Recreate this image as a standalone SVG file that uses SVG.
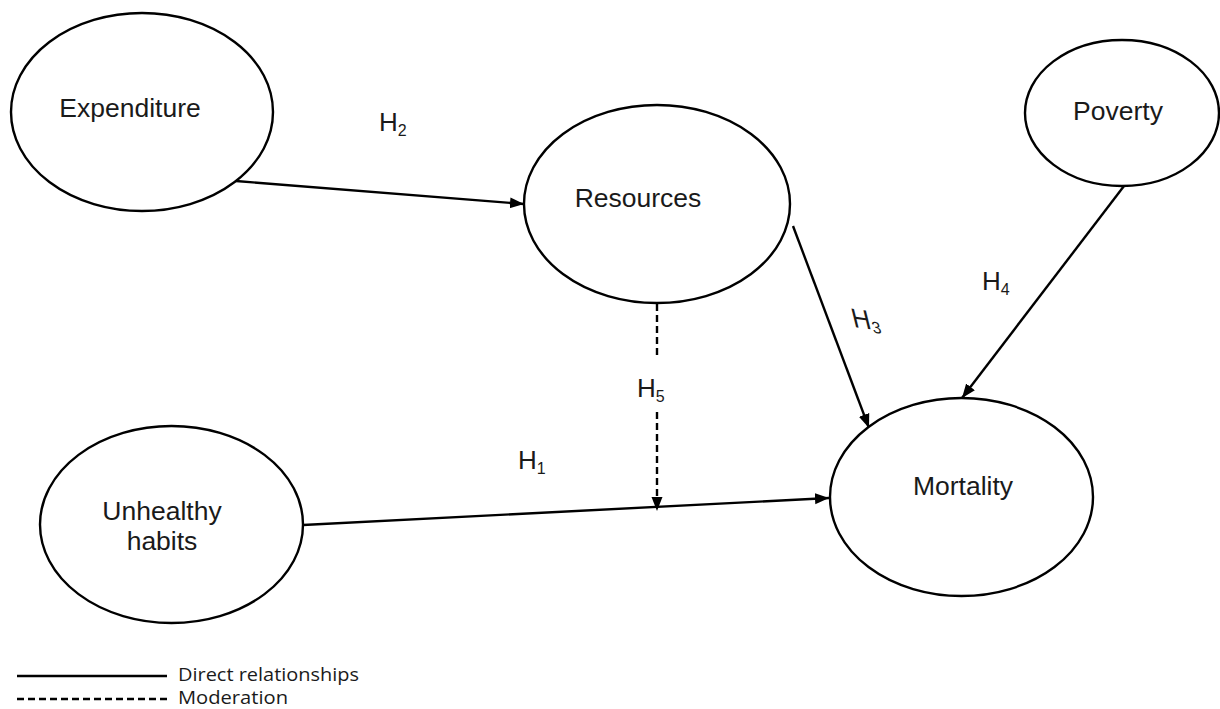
<svg xmlns="http://www.w3.org/2000/svg" width="1220" height="709" viewBox="0 0 1220 709">
<style>
.node{fill:#fff;stroke:#000;stroke-width:2.4}
.lbl{font-family:"Liberation Sans",Arial,sans-serif;font-size:26.5px;fill:#1a1a1a;text-anchor:middle}
.h{font-family:"Liberation Sans",Arial,sans-serif;font-size:26px;fill:#1a1a1a}
.sub{font-size:16px}
.con{stroke:#000;stroke-width:2.4;fill:none}
.dash{stroke-dasharray:7 4}
.leg{font-family:"Open Sans","Liberation Sans",sans-serif;font-size:18.5px;fill:#1a1a1a}
</style>
<defs>
<marker id="arr" markerUnits="userSpaceOnUse" markerWidth="16" markerHeight="14" refX="14" refY="7" orient="auto">
<path d="M0,1.5 L14,7 L0,12.5 Z" fill="#000"/>
</marker>
</defs>
<rect width="1220" height="709" fill="#fff"/>
<g id="connectors">
<line class="con" x1="236" y1="181" x2="524" y2="204" marker-end="url(#arr)"/>
<line class="con" x1="793" y1="226" x2="869" y2="428" marker-end="url(#arr)"/>
<line class="con" x1="1124" y1="186" x2="962" y2="398" marker-end="url(#arr)"/>
<line class="con" x1="303" y1="525" x2="829" y2="498" marker-end="url(#arr)"/>
<line class="con dash" x1="657" y1="304" x2="657" y2="358"/>
<line class="con dash" x1="657" y1="412" x2="657" y2="511" marker-end="url(#arr)"/>
</g>
<g id="node-expenditure">
<ellipse class="node" cx="142" cy="112" rx="131" ry="99"/>
<text class="lbl" x="130" y="117">Expenditure</text>
</g>
<g id="node-resources">
<ellipse class="node" cx="657" cy="204" rx="133" ry="99"/>
<text class="lbl" x="638" y="207">Resources</text>
</g>
<g id="node-poverty">
<ellipse class="node" cx="1122" cy="113" rx="97" ry="73"/>
<text class="lbl" x="1118" y="120">Poverty</text>
</g>
<g id="node-unhealthy">
<ellipse class="node" cx="171.5" cy="524.5" rx="131.5" ry="98.5"/>
<text class="lbl" x="162" y="520">Unhealthy</text>
<text class="lbl" x="162" y="550">habits</text>
</g>
<g id="node-mortality">
<ellipse class="node" cx="961.5" cy="497" rx="131.5" ry="99"/>
<text class="lbl" x="963" y="495">Mortality</text>
</g>
<g id="labels">
<text class="h" x="379" y="131">H<tspan class="sub" dy="5">2</tspan></text>
<text class="h" x="0" y="0" transform="translate(854,327) rotate(8) skewX(22)">H<tspan class="sub" dy="3">3</tspan></text>
<text class="h" x="982" y="290">H<tspan class="sub" dy="5">4</tspan></text>
<text class="h" x="637" y="397">H<tspan class="sub" dy="5">5</tspan></text>
<text class="h" x="518" y="469">H<tspan class="sub" dy="5">1</tspan></text>
</g>
<g id="legend">
<line class="con" x1="17" y1="676" x2="167" y2="676"/>
<line class="con dash" x1="17" y1="699" x2="170" y2="699"/>
<text class="leg" x="178" y="681" textLength="181" lengthAdjust="spacingAndGlyphs">Direct relationships</text>
<text class="leg" x="178" y="704" textLength="110" lengthAdjust="spacingAndGlyphs">Moderation</text>
</g>
</svg>
